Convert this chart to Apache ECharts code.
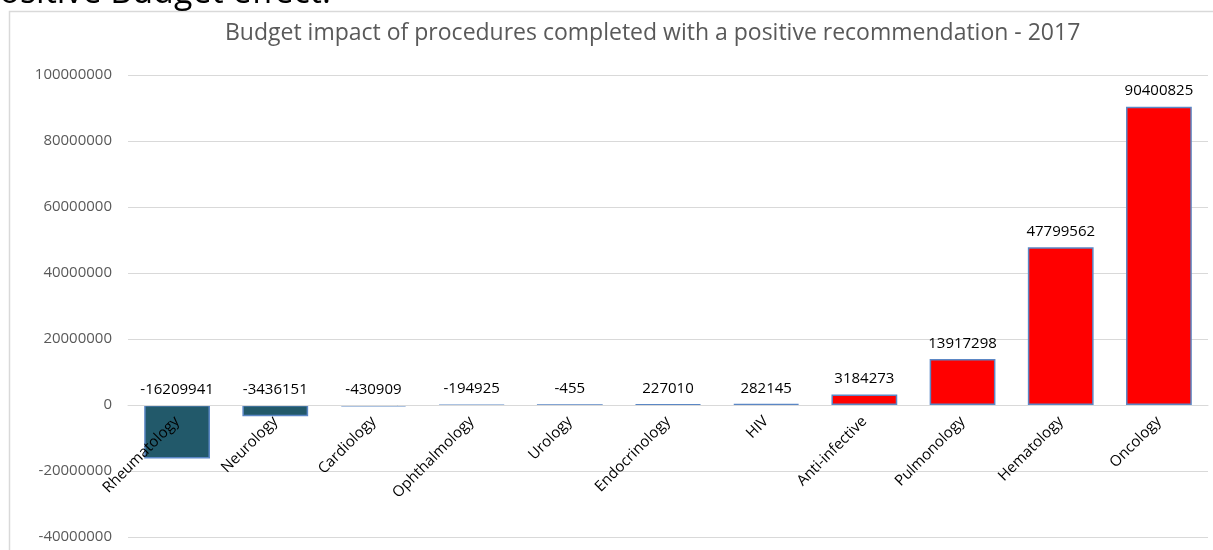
<!DOCTYPE html>
<html>
<head>
<meta charset="utf-8">
<style>
  html, body { margin: 0; padding: 0; background: #ffffff; }
  #chart { width: 1213px; height: 550px; }
</style>
<script src="https://cdn.jsdelivr.net/npm/echarts@6/dist/echarts.min.js"></script>
</head>
<body>
<div id="chart"></div>
<script>
// Therapeutic areas and their 2017 budget impact (EUR)
const categories = ['Rheumatology', 'Neurology', 'Cardiology', 'Ophthalmology', 'Urology',
  'Endocrinology', 'HIV', 'Anti-infective', 'Pulmonology', 'Hematology', 'Oncology'];
const budgetImpact = [-16209941, -3436151, -430909, -194925, -455,
  227010, 282145, 3184273, 13917298, 47799562, 90400825];
const yTicks = { min: -40000000, max: 100000000, interval: 20000000 };

const FONT = '"Open Sans", "Liberation Sans", sans-serif';
const SAVINGS = '#22596A';
const COST = '#FF0000';
const EDGE = '#5B87C5';

const W = 1213, H = 550;
const GRID = { left: 128, right: 5, top: 75, bottom: 13 };
// Category axis sits on the zero line: shift it up from the plot bottom
const plotH = H - GRID.top - GRID.bottom;
const zeroShift = plotH * (0 - yTicks.min) / (yTicks.max - yTicks.min);

const chart = echarts.init(document.getElementById('chart'), null, { renderer: 'canvas' });

chart.setOption({
  animation: false,
  backgroundColor: '#ffffff',
  title: {
    text: 'Budget impact of procedures completed with a positive recommendation - 2017',
    left: 220,
    top: 17,
    textStyle: { fontFamily: FONT, fontSize: 23, fontWeight: 'normal', color: '#595959' }
  },
  graphic: [
    {
      type: 'rect',
      silent: true,
      shape: { x: 9.5, y: 11.5, width: 1400, height: 700 },
      style: { fill: 'none', stroke: '#D9D9D9', lineWidth: 1.5 }
    },
    {
      type: 'text',
      silent: true,
      style: {
        x: -21,
        y: -7,
        text: 'Positive Budget effect:',
        fontFamily: FONT,
        fontSize: 34,
        verticalAlign: 'middle',
        align: 'left',
        fill: '#000000'
      }
    }
  ],
  grid: Object.assign({ outerBoundsMode: 'none', containLabel: false }, GRID),
  xAxis: {
    type: 'category',
    data: categories,
    position: 'bottom',
    offset: -zeroShift,
    z: 5,
    axisLine: { onZero: false, lineStyle: { color: '#D9D9D9', width: 1 } },
    axisTick: { show: false },
    axisLabel: {
      rotate: 45,
      margin: 14,
      interval: 0,
      fontFamily: FONT,
      fontSize: 15,
      color: '#000000'
    },
    splitLine: { show: false }
  },
  yAxis: {
    type: 'value',
    min: yTicks.min,
    max: yTicks.max,
    interval: yTicks.interval,
    axisLine: { show: false },
    axisTick: { show: false },
    axisLabel: {
      margin: 16,
      fontFamily: FONT,
      fontSize: 15,
      color: '#595959',
      formatter: v => String(v)
    },
    splitLine: { lineStyle: { color: '#D9D9D9', width: 1 } }
  },
  series: [{
    type: 'bar',
    barWidth: '67%',
    z: 2,
    data: budgetImpact.map(v => ({
      value: v,
      itemStyle: { color: v < 0 ? SAVINGS : COST, borderColor: EDGE, borderWidth: 1.5 }
    })),
    label: {
      show: true,
      position: 'top',
      distance: 8,
      fontFamily: FONT,
      fontSize: 15,
      color: '#000000',
      formatter: p => String(p.value)
    }
  }]
});
</script>
</body>
</html>
